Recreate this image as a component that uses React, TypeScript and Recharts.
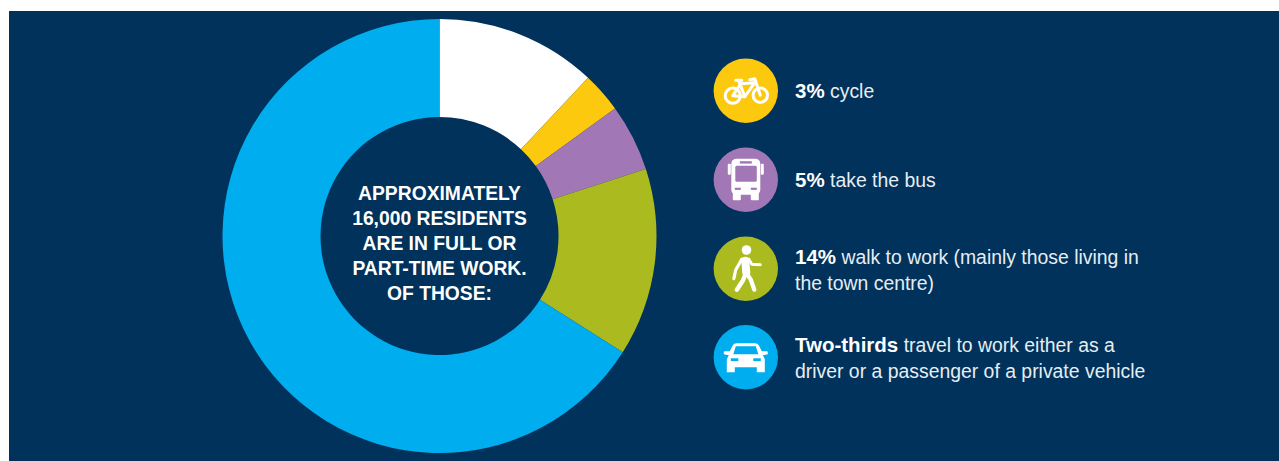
import React from "react";
import { PieChart, Pie, Cell } from "recharts";

// Commuting split, in percent of working residents
const modes = ["Other", "Cycle", "Bus", "Walk", "Private vehicle"];
const shares = [12, 3, 5, 14, 66];
const sliceColors = ["#ffffff", "#fcc90f", "#a277b6", "#abba1f", "#00adee"];

const centreLines = [
  "APPROXIMATELY",
  "16,000 RESIDENTS",
  "ARE IN FULL OR",
  "PART-TIME WORK.",
  "OF THOSE:",
];

const NAVY = "#00325b";
const FONT = "'Liberation Sans', Arial, sans-serif";

const pieData = modes.map((name, i) => ({ name, value: shares[i] }));

const BikeIcon = () => (
  <g fill="none" stroke="#fff" strokeWidth={3} strokeLinejoin="round" strokeLinecap="round">
    <circle cx={-13} cy={5} r={7.6} />
    <circle cx={14.5} cy={4.5} r={7.2} />
    <path d="M-13 5 L-5 -7 L9 -8 L-1 6 Z" />
    <path d="M14.5 4.5 L9 -12 L4 -11" />
    <path d="M-1 6 L-7 -10 M-10 -10.5 L-4 -10.5" />
  </g>
);

const BusIcon = ({ bg }: { bg: string }) => (
  <g>
    <rect x={-14.5} y={-21} width={29} height={36} rx={5} fill="#fff" />
    <rect x={-13} y={13} width={8} height={7.5} rx={1} fill="#fff" />
    <rect x={5} y={13} width={8} height={7.5} rx={1} fill="#fff" />
    <rect x={-18} y={-16} width={3} height={11} rx={1} fill="#fff" />
    <rect x={15} y={-16} width={3} height={11} rx={1} fill="#fff" />
    <rect x={-10.5} y={-14} width={21.5} height={16} rx={1.5} fill={bg} />
    <rect x={-6} y={-18.5} width={12} height={2.4} fill={bg} />
    <rect x={-11} y={8} width={6} height={2.2} fill={bg} />
    <rect x={5} y={8} width={6} height={2.2} fill={bg} />
  </g>
);

const WalkerIcon = () => (
  <g fill="none" stroke="#fff" strokeLinecap="round" strokeLinejoin="round">
    <circle cx={0.7} cy={-18.7} r={4.8} fill="#fff" stroke="none" />
    <path d="M-0.5 -8 L0.5 4" strokeWidth={8} />
    <path d="M0 5 L-3 12 L-9 21" strokeWidth={4.4} />
    <path d="M1 5 L5 11 L8.5 21" strokeWidth={4.2} />
    <path d="M-4 -9.5 L-10 1 L-12 10" strokeWidth={3.2} />
    <path d="M3 -9.5 L6 -4.5 L14.5 -4" strokeWidth={3} />
  </g>
);

const CarIcon = ({ bg }: { bg: string }) => (
  <g>
    <path d="M-16 -6 L-13 -12 Q-12 -14 -9 -14 L9 -14 Q12 -14 13 -12 L16 -6 L21 -6 Q22 -6 22 -5 L22 -3 L17 -2 L19 2 L19 15 L11 15 L11 10 L-11 10 L-11 15 L-19 15 L-19 2 L-17 -2 L-22 -3 L-22 -5 Q-22 -6 -21 -6 Z" fill="#fff" />
    <path d="M-12.5 -3 L-10 -11 L10 -11 L12.5 -3 Z" fill={bg} />
    <rect x={-15} y={1} width={7.5} height={2.8} fill={bg} />
    <rect x={7.5} y={1} width={7.5} height={2.8} fill={bg} />
  </g>
);

type Run = { text: string; bold?: boolean };

// Icon discs and their descriptions, top to bottom
const keyRows: { cy: number; color: string; icon: string; lines: { baseline: number; runs: Run[] }[] }[] = [
  {
    cy: 90.7,
    color: sliceColors[1],
    icon: "bike",
    lines: [{ baseline: 98, runs: [{ text: "3%", bold: true }, { text: " cycle" }] }],
  },
  {
    cy: 179.7,
    color: sliceColors[2],
    icon: "bus",
    lines: [{ baseline: 187, runs: [{ text: "5%", bold: true }, { text: " take the bus" }] }],
  },
  {
    cy: 268.7,
    color: sliceColors[3],
    icon: "walk",
    lines: [
      { baseline: 264, runs: [{ text: "14%", bold: true }, { text: " walk to work (mainly those living in" }] },
      { baseline: 290, runs: [{ text: "the town centre)" }] },
    ],
  },
  {
    cy: 357.3,
    color: sliceColors[4],
    icon: "car",
    lines: [
      { baseline: 352, runs: [{ text: "Two-thirds", bold: true }, { text: " travel to work either as a" }] },
      { baseline: 378, runs: [{ text: "driver or a passenger of a private vehicle" }] },
    ],
  },
];

const renderIcon = (icon: string, color: string) => {
  if (icon === "bike") return <BikeIcon />;
  if (icon === "bus") return <BusIcon bg={color} />;
  if (icon === "walk") return <WalkerIcon />;
  return <CarIcon bg={color} />;
};

export default function App() {
  return (
    <div style={{ position: "absolute", left: 0, top: 0, width: 1279, height: 461, background: "#fff" }}>
      <PieChart width={1279} height={461} margin={{ top: 0, right: 0, bottom: 0, left: 0 }}>
        <rect x={9} y={11} width={1270} height={450} fill={NAVY} />
        <Pie
          data={pieData}
          dataKey="value"
          nameKey="name"
          cx={439.5}
          cy={236}
          innerRadius={119}
          outerRadius={217}
          startAngle={90}
          endAngle={-270}
          stroke="none"
          isAnimationActive={false}
        >
          {pieData.map((d, i) => (
            <Cell key={d.name} fill={sliceColors[i]} />
          ))}
        </Pie>
        <g fontFamily={FONT} fontWeight={700} fontSize={19.3} fill="#fff" textAnchor="middle">
          {centreLines.map((line, i) => (
            <text key={line} x={439.5} y={200 + i * 25}>
              {line}
            </text>
          ))}
        </g>
        {keyRows.map((row) => (
          <g key={row.icon}>
            <circle cx={745.8} cy={row.cy} r={32.2} fill={row.color} />
            <g transform={`translate(745.8 ${row.cy})`}>{renderIcon(row.icon, row.color)}</g>
            {row.lines.map((line) => (
              <text key={line.baseline} x={795} y={line.baseline} fontFamily={FONT} fontSize={19.4} fill="#e6edf3">
                {line.runs.map((run) => (
                  <tspan
                    key={run.text}
                    fontWeight={run.bold ? 700 : 400}
                    fontSize={run.bold ? 20.5 : 19.4}
                    fill={run.bold ? "#fff" : "#e6edf3"}
                  >
                    {run.text}
                  </tspan>
                ))}
              </text>
            ))}
          </g>
        ))}
      </PieChart>
    </div>
  );
}
